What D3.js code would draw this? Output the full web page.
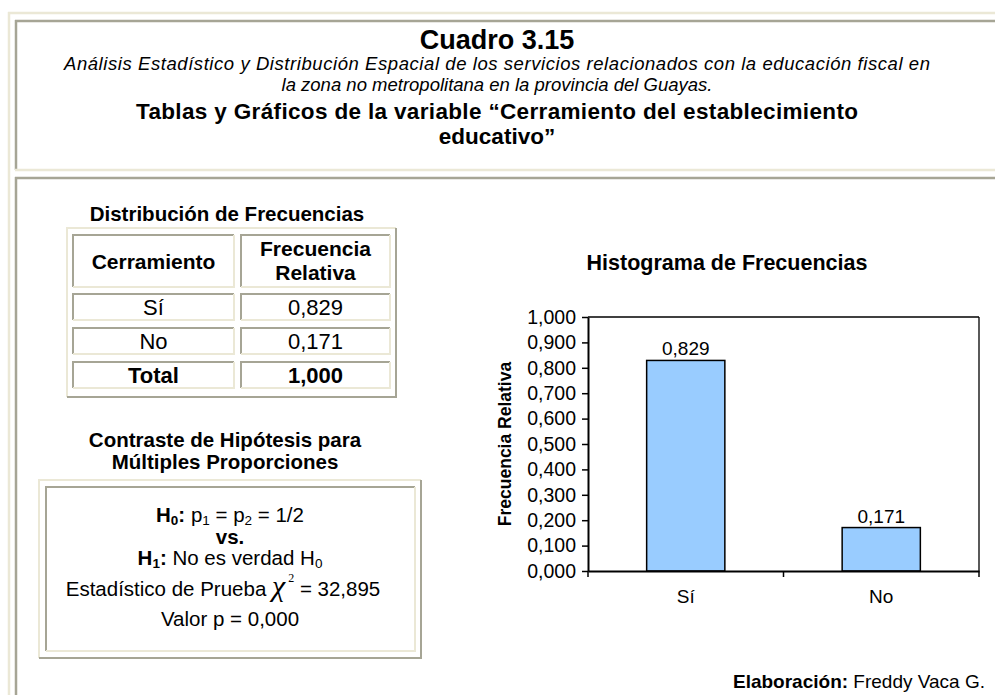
<!DOCTYPE html>
<html><head><meta charset="utf-8">
<script src="https://cdn.jsdelivr.net/npm/d3@7"></script>
<style>
html,body{margin:0;padding:0;background:#fff;}
svg{display:block;}
text{font-family:"Liberation Sans",Arial,sans-serif;fill:#000;}
</style></head>
<body>
<svg id="c" width="995" height="695"></svg>
<script>
// ---- data ----
const categories = ["Sí", "No"];
const frecuencias = [0.829, 0.171];
const total = 1.000;
const yTicks = [0, 0.1, 0.2, 0.3, 0.4, 0.5, 0.6, 0.7, 0.8, 0.9, 1.0];
const tableHeader = ["Cerramiento", ["Frecuencia", "Relativa"]];
const chiSquare = 32.895;
const pValue = 0.000;

const loc = d3.formatLocale({decimal: ",", thousands: ".", grouping: [3], currency: ["$", ""]});
const f3 = loc.format(".3f");

const svg = d3.select("#c");
const BEIGE = "#ebe8d6", GRAY = "#a6a595";

function hline(x1, x2, y, c, w) {
  svg.append("line").attr("x1", x1).attr("x2", x2).attr("y1", y).attr("y2", y)
    .attr("stroke", c).attr("stroke-width", w || 2);
}
function vline(x, y1, y2, c, w) {
  svg.append("line").attr("x1", x).attr("x2", x).attr("y1", y1).attr("y2", y2)
    .attr("stroke", c).attr("stroke-width", w || 2);
}
// bevel box: top/left colour a, bottom/right colour b
function bevel(x1, y1, x2, y2, a, b) {
  hline(x1, x2, y1, a); vline(x1, y1 - 1, y2, a);
  hline(x1, x2 + 1, y2, b); vline(x2, y1, y2, b);
}
function txt(x, y, s, size, opts) {
  opts = opts || {};
  const t = svg.append("text").attr("x", x).attr("y", y + size * 0.35)
    .attr("text-anchor", opts.anchor || "middle")
    .attr("font-size", size)
    .attr("font-weight", opts.bold ? "bold" : "normal")
    .attr("font-style", opts.italic ? "italic" : "normal")
    .text(s);
  if (opts.len) t.attr("textLength", opts.len).attr("lengthAdjust", "spacing");
  return t;
}

// ---- page frames ----
hline(8, 995, 13, BEIGE, 2.5);
vline(9, 12, 695, BEIGE, 2.5);
hline(15, 995, 21, GRAY, 2.5);
vline(16, 20, 170, GRAY, 2.5);
hline(15, 995, 170, BEIGE, 2.5);
hline(15, 995, 178, GRAY, 2.5);
vline(16, 177, 695, GRAY, 2.5);

// ---- header ----
txt(497, 40, "Cuadro 3.15", 27, {bold: true});
txt(497, 64, "Análisis Estadístico y Distribución Espacial de los servicios relacionados con la educación fiscal en", 18.5, {italic: true, len: 866});
txt(497, 85, "la zona no metropolitana en la provincia del Guayas.", 18.5, {italic: true});
txt(497, 111, "Tablas y Gráficos de la variable “Cerramiento del establecimiento", 22.5, {bold: true, len: 722});
txt(497, 136, "educativo”", 22.5, {bold: true});

// ---- frequency table ----
txt(227, 214, "Distribución de Frecuencias", 20.5, {bold: true});
bevel(67, 228, 396, 397, BEIGE, GRAY);
const cols = [[73, 234], [241, 390]];
const rows = [[235, 287], [294, 320], [328, 354], [362, 388]];
rows.forEach(r => cols.forEach(c => bevel(c[0], r[0], c[1], r[1], GRAY, BEIGE)));
const cx = cols.map(c => (c[0] + c[1]) / 2);
txt(cx[0], 262, tableHeader[0], 21, {bold: true});
txt(cx[1], 249, tableHeader[1][0], 21, {bold: true});
txt(cx[1], 273, tableHeader[1][1], 21, {bold: true});
categories.forEach((cat, i) => {
  const y = (rows[i + 1][0] + rows[i + 1][1]) / 2;
  txt(cx[0], y, cat, 22);
  txt(cx[1], y, f3(frecuencias[i]), 22);
});
const yT = (rows[3][0] + rows[3][1]) / 2;
txt(cx[0], yT, "Total", 22, {bold: true});
txt(cx[1], yT, f3(total), 22, {bold: true});

// ---- hypothesis box ----
txt(225, 440, "Contraste de Hipótesis para", 20.5, {bold: true});
txt(225, 462, "Múltiples Proporciones", 20.5, {bold: true});
bevel(39, 480, 421, 658, BEIGE, GRAY);
bevel(46, 487, 415, 651, GRAY, BEIGE);
const bx = 230, FS = 20.5, SUB = 13.5;
{
  const t = svg.append("text").attr("x", bx).attr("y", 515 + 7).attr("text-anchor", "middle").attr("font-size", FS);
  t.append("tspan").attr("font-weight", "bold").text("H");
  t.append("tspan").attr("font-weight", "bold").attr("font-size", SUB).attr("dy", 3).text("0");
  t.append("tspan").attr("font-weight", "bold").attr("dy", -3).text(":");
  t.append("tspan").text(" p");
  t.append("tspan").attr("font-size", SUB).attr("dy", 3).text("1");
  t.append("tspan").attr("dy", -3).text(" = p");
  t.append("tspan").attr("font-size", SUB).attr("dy", 3).text("2");
  t.append("tspan").attr("dy", -3).text(" = 1/2");
}
txt(bx, 537, "vs.", FS, {bold: true});
{
  const t = svg.append("text").attr("x", bx).attr("y", 558 + 7).attr("text-anchor", "middle").attr("font-size", FS);
  t.append("tspan").attr("font-weight", "bold").text("H");
  t.append("tspan").attr("font-weight", "bold").attr("font-size", SUB).attr("dy", 3).text("1");
  t.append("tspan").attr("font-weight", "bold").attr("dy", -3).text(":");
  t.append("tspan").text(" No es verdad H");
  t.append("tspan").attr("font-size", SUB).attr("dy", 3).text("0");
}
{
  const t = svg.append("text").attr("x", 223).attr("y", 589 + 7).attr("text-anchor", "middle").attr("font-size", FS);
  t.append("tspan").text("Estadístico de Prueba ");
  t.append("tspan").attr("font-family", "'Liberation Serif','DejaVu Serif',serif").attr("font-style", "italic").attr("font-size", 30).text("χ");
  t.append("tspan").attr("font-family", "'Liberation Serif',serif").attr("font-size", 12).attr("dy", -14).text(" 2");
  t.append("tspan").attr("dy", 14).text(" = " + f3(chiSquare));
}
txt(bx, 619, "Valor p = " + f3(pValue), FS);

// ---- histogram ----
const M = {left: 588, right: 979, top: 317, bottom: 571};
const x = d3.scaleBand().domain(categories).range([M.left, M.right]).paddingInner(0.6).paddingOuter(0.3);
const y = d3.scaleLinear().domain([0, 1]).range([M.bottom, M.top]);

txt(727, 262, "Histograma de Frecuencias", 21.5, {bold: true});

// plot frame top/right
svg.append("line").attr("x1", M.left).attr("x2", M.right).attr("y1", M.top).attr("y2", M.top).attr("stroke", "#000").attr("stroke-width", 1.3);
svg.append("line").attr("x1", M.right).attr("x2", M.right).attr("y1", M.top).attr("y2", M.bottom).attr("stroke", "#000").attr("stroke-width", 1.3);

// bars
svg.selectAll("rect.bar").data(categories).join("rect").attr("class", "bar")
  .attr("x", d => x(d)).attr("width", x.bandwidth())
  .attr("y", (d, i) => y(frecuencias[i])).attr("height", (d, i) => y(0) - y(frecuencias[i]))
  .attr("fill", "#99ccff").attr("stroke", "#000").attr("stroke-width", 1.5);

svg.selectAll("text.blab").data(categories).join("text").attr("class", "blab")
  .attr("x", d => x(d) + x.bandwidth() / 2).attr("y", (d, i) => y(frecuencias[i]) - 5)
  .attr("text-anchor", "middle").attr("font-size", 19).text((d, i) => f3(frecuencias[i]));

// y axis
const yAxis = svg.append("g").attr("transform", `translate(${M.left},0)`)
  .call(d3.axisLeft(y).tickValues(yTicks).tickFormat(f3).tickSize(6).tickSizeOuter(0));
yAxis.select(".domain").attr("stroke-width", 2);
yAxis.selectAll(".tick line").attr("stroke-width", 1.5);
yAxis.selectAll(".tick text").attr("font-size", 19.5).attr("font-family", "'Liberation Sans',Arial,sans-serif").attr("x", -12);

// x axis
const xAxis = svg.append("g").attr("transform", `translate(0,${M.bottom})`)
  .call(d3.axisBottom(x).tickSize(0).tickPadding(19));
xAxis.select(".domain").attr("stroke-width", 2);
xAxis.selectAll(".tick text").attr("font-size", 19).attr("font-family", "'Liberation Sans',Arial,sans-serif");
// category boundary ticks
const bounds = [M.left, (x("Sí") + x.bandwidth() + x("No")) / 2, M.right];
xAxis.selectAll("line.bt").data(bounds).join("line").attr("class", "bt")
  .attr("x1", d => d).attr("x2", d => d).attr("y1", 0).attr("y2", 6)
  .attr("stroke", "#000").attr("stroke-width", 1.5);

// y title
svg.append("text").attr("transform", `translate(${505 + 6},${(M.top + M.bottom) / 2}) rotate(-90)`)
  .attr("text-anchor", "middle").attr("font-size", 17.5).attr("font-weight", "bold").text("Frecuencia Relativa");

// credit
{
  const t = svg.append("text").attr("x", 985).attr("y", 688).attr("text-anchor", "end").attr("font-size", 19);
  t.append("tspan").attr("font-weight", "bold").text("Elaboración:");
  t.append("tspan").text(" Freddy Vaca G.");
}
</script>
</body></html>
